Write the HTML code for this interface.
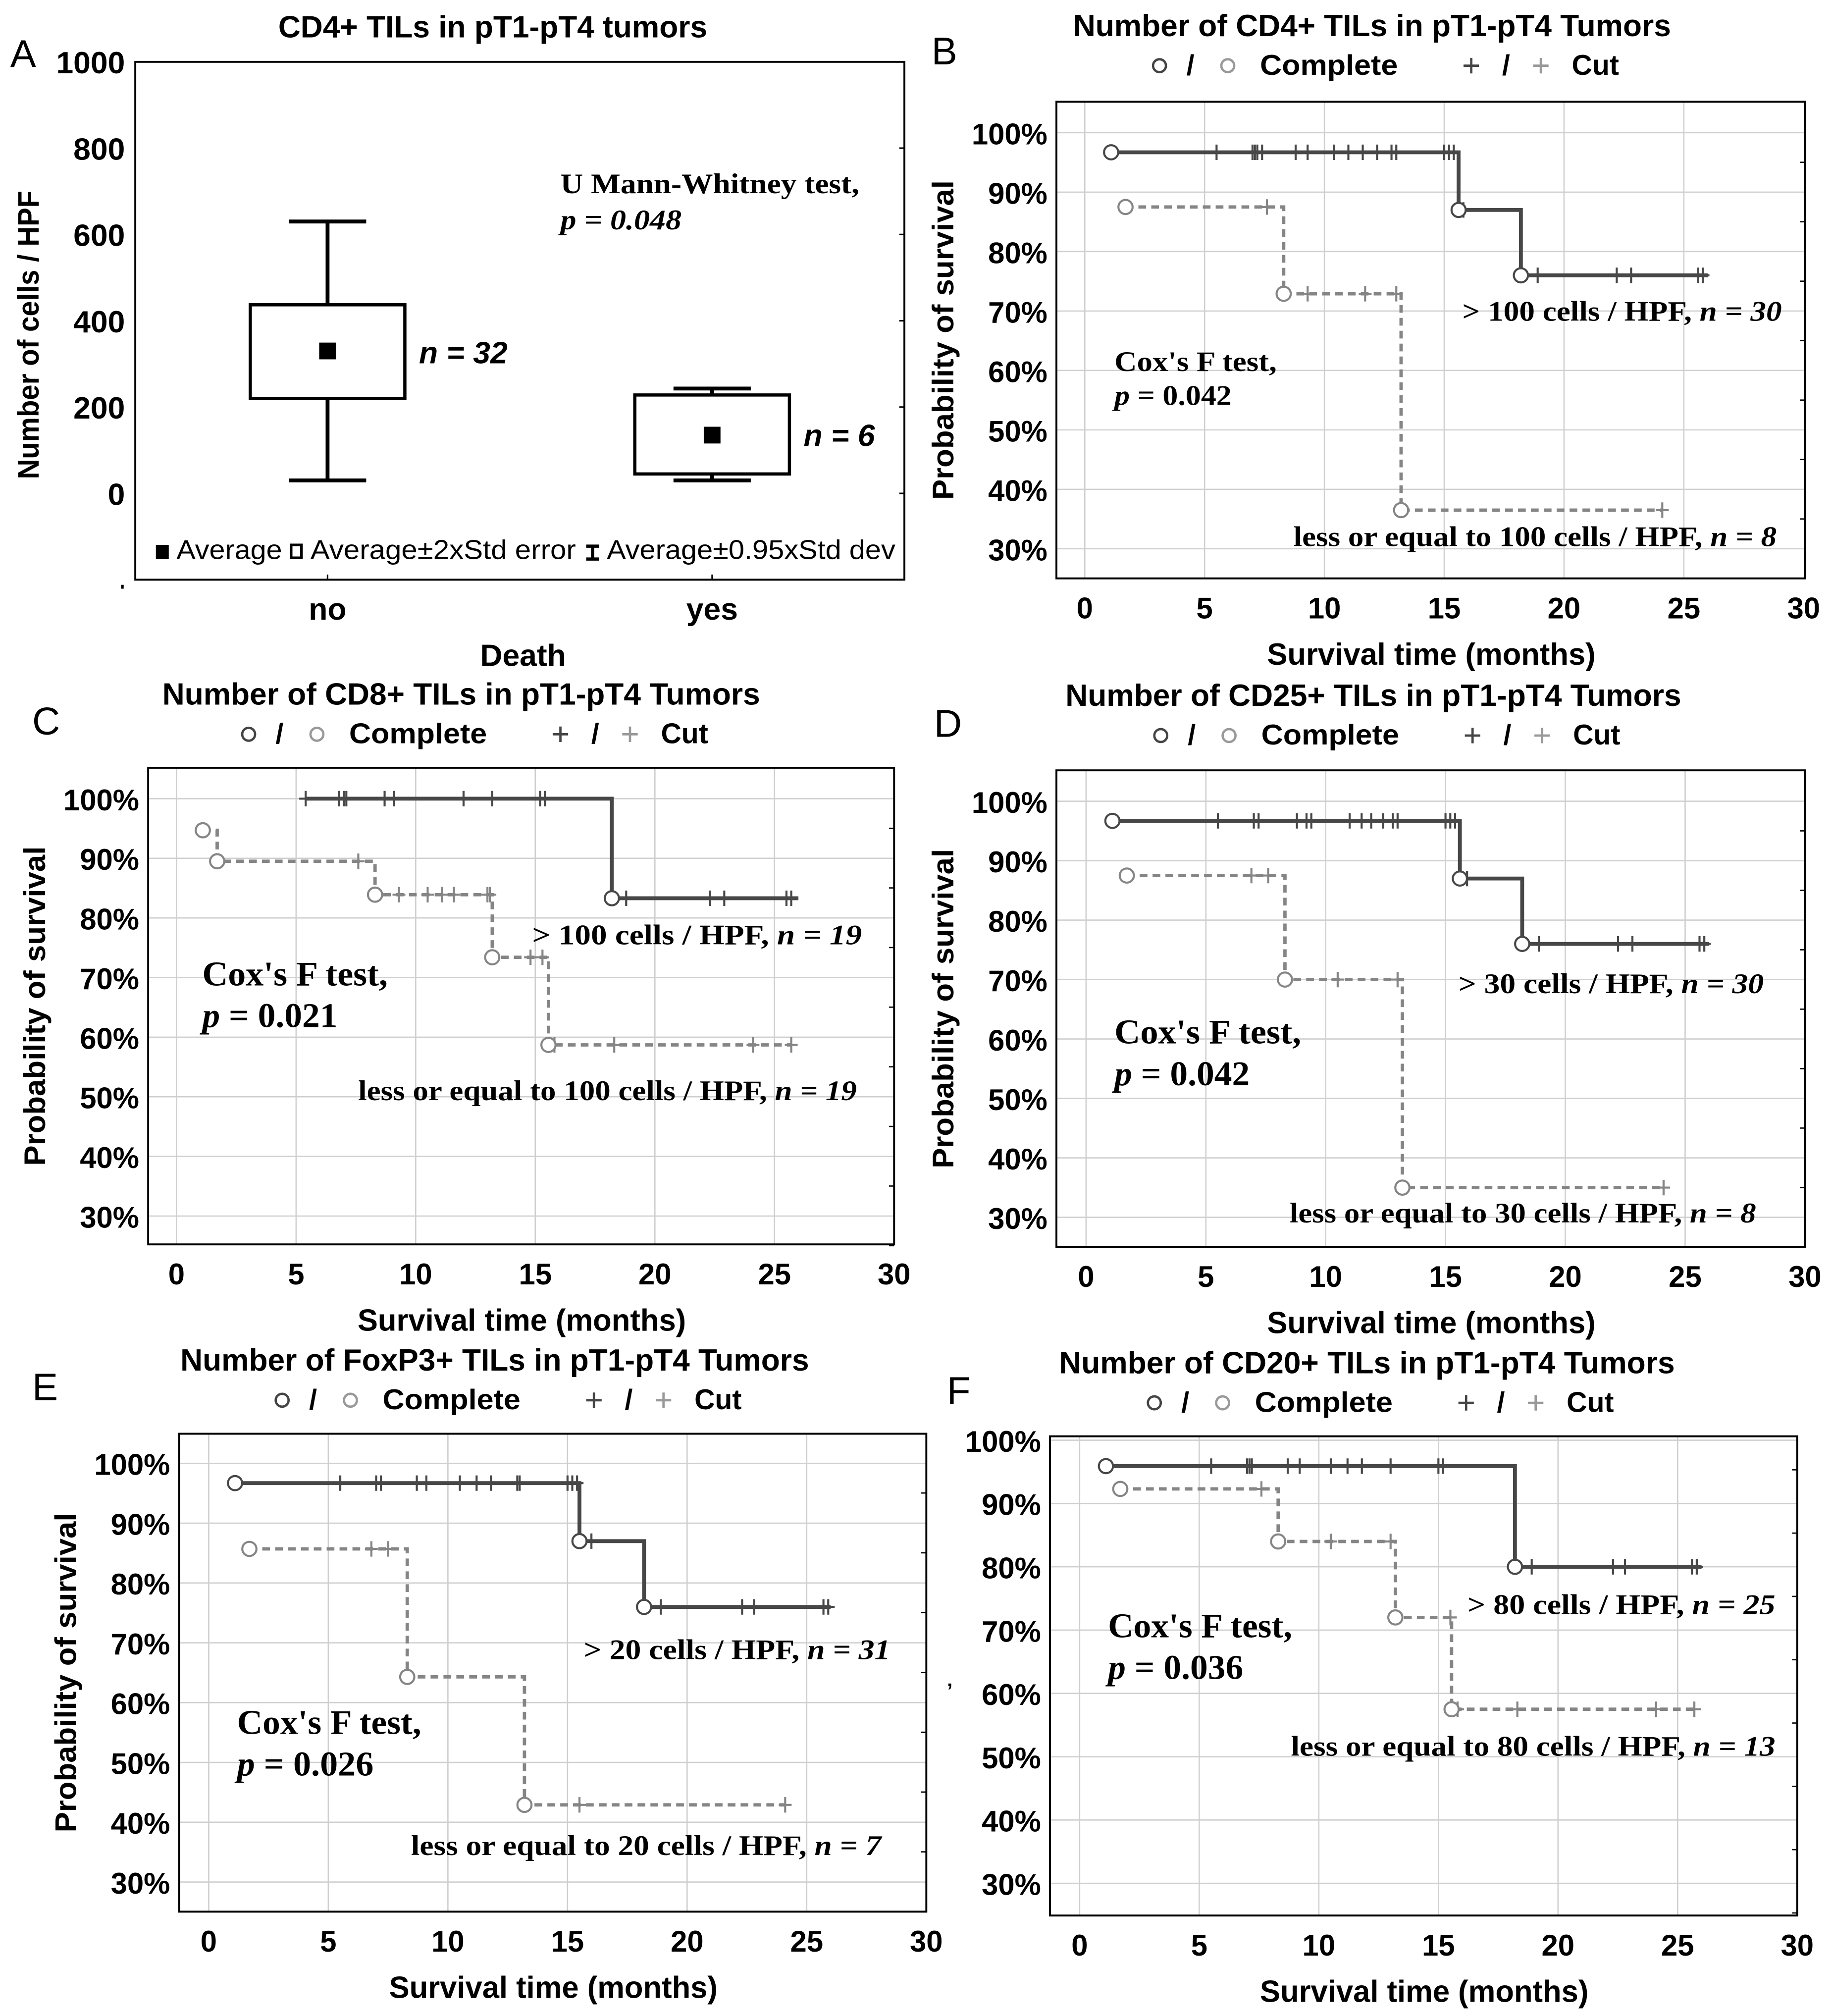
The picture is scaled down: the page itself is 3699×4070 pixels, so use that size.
<!DOCTYPE html>
<html><head><meta charset="utf-8">
<style>
html,body{margin:0;padding:0;background:#fff;}
svg{display:block;}
.sans{font-family:"Liberation Sans Narrow","Liberation Sans",sans-serif;font-weight:bold;}
.leg{font-family:"Liberation Sans",sans-serif;font-weight:bold;}
.serif{font-family:"Liberation Serif",serif;font-weight:bold;}
</style></head>
<body>
<svg id="fig" xmlns="http://www.w3.org/2000/svg" width="3699" height="4070" viewBox="0 0 1422 1565" preserveAspectRatio="none">
<rect x="0" y="0" width="1422" height="1565" fill="#fff"/>
</svg>
<script>
// ---------- Panel A data ----------
const aGroups = ['no','yes'];
const aMeans = [330, 135];
const aBoxLo = [220, 45];
const aBoxHi = [437, 228];
const aWhLo = [30, 30];
const aWhHi = [630, 243];
const aYTicks = [0, 200, 400, 600, 800, 1000];
const aNLabels = ['n = 32', 'n = 6'];

// ---------- KM data ----------
const kmXTicks = [0, 5, 10, 15, 20, 25, 30];
const kmYTicks = [30, 40, 50, 60, 70, 80, 90, 100];

const bHiT = [1.1, 15.6, 18.2];
const bHiS = [96.7, 87, 76];
const bHiCens = [5.5, 7, 7.1, 7.2, 7.4, 8.8, 9.3, 10.4, 11, 11.6, 12.2, 12.8, 13, 15, 15.2, 15.4, 15.8, 18.9, 22.2, 22.8, 25.6, 25.8];
const bHiEnd = [26];
const bLoT = [1.7, 8.3, 13.2];
const bLoS = [87.5, 72.9, 36.5];
const bLoCens = [7.6, 9.3, 11.7, 13.0, 24.1];
const bLoEnd = [24.1];

const cHiT = [5.4, 18.2];
const cHiS = [100, 83.3];
const cHiCens = [5.4, 6.8, 7, 7.1, 8.7, 9.1, 12, 13.2, 15.2, 15.4, 18.8, 22.3, 22.9, 25.5, 25.7];
const cHiEnd = [26];
const cLoT = [1.1, 1.7, 8.3, 13.2, 15.55];
const cLoS = [94.7, 89.5, 83.9, 73.4, 58.7];
const cLoCens = [7.6, 9.3, 10.5, 11.1, 11.6, 13.0, 13.1, 14.8, 15.3, 15.8, 18.3, 24.1, 25.7];
const cLoEnd = [25.7];

const dHiT = [1.1, 15.6, 18.2];
const dHiS = [96.7, 87, 76];
const dHiCens = [5.5, 7, 7.2, 8.8, 9.2, 9.4, 11, 11.5, 11.9, 12.4, 12.8, 13, 15, 15.2, 15.4, 15.9, 18.9, 22.2, 22.8, 25.6, 25.8];
const dHiEnd = [26];
const dLoT = [1.7, 8.3, 13.2];
const dLoS = [87.5, 70, 35];
const dLoCens = [6.9, 7.6, 10.5, 13.0, 24.1];
const dLoEnd = [24.1];

const eHiT = [1.1, 15.5, 18.2];
const eHiS = [96.7, 87, 76];
const eHiCens = [5.5, 7, 7.2, 8.7, 9.1, 10.5, 11.2, 11.8, 12.9, 13, 15, 15.2, 15.4, 16, 18.9, 22.3, 22.8, 25.7, 25.9];
const eHiEnd = [26];
const eLoT = [1.7, 8.3, 13.2];
const eLoS = [85.7, 64.3, 42.9];
const eLoCens = [6.8, 7.5, 15.5, 24.1];
const eLoEnd = [24.1];

const fHiT = [1.1, 18.2];
const fHiS = [95.9, 80];
const fHiCens = [5.5, 7, 7.1, 7.2, 8.7, 9.2, 10.5, 11.2, 11.8, 13, 15, 15.2, 18.9, 22.3, 22.8, 25.6, 25.8];
const fHiEnd = [26];
const fLoT = [1.7, 8.3, 13.2, 15.55];
const fLoS = [92.3, 84, 72, 57.5];
const fLoCens = [7.6, 10.5, 13, 15.5, 15.8, 18.3, 24.1, 25.7];
const fLoEnd = [25.7];

const NS = 'http://www.w3.org/2000/svg';
const svg = document.getElementById('fig');
function mk(tag, attrs, parent) {
  const e = document.createElementNS(NS, tag);
  for (const k in attrs) e.setAttribute(k, attrs[k]);
  (parent || svg).appendChild(e);
  return e;
}
function txt(str, attrs, parent) {
  const t = mk('text', attrs, parent);
  t.textContent = str;
  if (attrs.textLength) t.setAttribute('lengthAdjust', 'spacingAndGlyphs');
  return t;
}

// ================= Panel A =================
(function () {
  const g = mk('g', {});
  
  
  const L = 105, R = 702, T = 48, B = 450;
  const y = v => 383 - (v) * (335 / 1000);
  const bw = (R - L) / aGroups.length;
  const xc = i => L + bw * (i + 0.5);

  let t = txt('A', {x: 8, y: 52, 'font-size': 30, class: 'leg', style: 'font-weight:normal'}, g);
  
  
  t = txt('CD4+ TILs in pT1-pT4 tumors', {x: 216, y: 29, 'font-size': 24, textLength: 333, class: 'sans'}, g);
  
  

  const fr = mk('rect', {x: L, y: T, width: R - L, height: B - T, fill: 'none', stroke: '#000', 'stroke-width': 1.5}, g);
  
  

  aYTicks.forEach(v => {
    const lb = txt(String(v), {x: 97, y: y(v) + 9, 'font-size': 24, 'text-anchor': 'end', class: 'sans'}, g);
    
    
    const tk = mk('line', {x1: R - 4, x2: R, y1: y(v), y2: y(v), stroke: '#000', 'stroke-width': 1.2}, g);
    
    
  });
  const dot = mk('rect', {x: 94, y: 454, width: 2, height: 3, fill: '#000'}, g);
  
  

  t = txt('Number of cells / HPF', {x: -112, y: 0, 'font-size': 23, textLength: 224, class: 'leg', transform: 'translate(30,260) rotate(-90)'}, g);
  
  

  aGroups.forEach((name, i) => {
    const cx = xc(i);
    const lb = txt(name, {x: cx, y: 481, 'font-size': 24, 'text-anchor': 'middle', class: 'sans'}, g);
    
    
    const tk = mk('line', {x1: cx, x2: cx, y1: B, y2: B - 4, stroke: '#000', 'stroke-width': 1.2}, g);
    
    
    const w1 = mk('line', {x1: cx, x2: cx, y1: y(aWhLo[i]), y2: y(aWhHi[i]), stroke: '#000', 'stroke-width': 3}, g);
    
    
    const c1 = mk('line', {x1: cx - 30, x2: cx + 30, y1: y(aWhHi[i]), y2: y(aWhHi[i]), stroke: '#000', 'stroke-width': 3}, g);
    
    
    const c2 = mk('line', {x1: cx - 30, x2: cx + 30, y1: y(aWhLo[i]), y2: y(aWhLo[i]), stroke: '#000', 'stroke-width': 3}, g);
    
    
    const bx = mk('rect', {x: cx - 60, y: y(aBoxHi[i]), width: 120, height: y(aBoxLo[i]) - y(aBoxHi[i]), fill: '#fff', stroke: '#000', 'stroke-width': 2.5}, g);
    
    
    const m = mk('rect', {x: cx - 6.5, y: y(aMeans[i]) - 6.5, width: 13, height: 13, fill: '#000'}, g);
    
    
    const n = txt(aNLabels[i], {x: cx + 71, y: y((aBoxLo[i] + aBoxHi[i]) / 2) + 9, 'font-size': 24, class: 'sans', 'font-style': 'italic'}, g);
    
    
  });

  t = txt('U Mann-Whitney test,', {x: 435, y: 150, 'font-size': 22, textLength: 232, class: 'serif'}, g);
  
  
  t = txt('p = 0.048', {x: 435, y: 178, 'font-size': 22, textLength: 94, class: 'serif', 'font-style': 'italic'}, g);
  
  

  // legend
  let s = mk('rect', {x: 121, y: 423, width: 10, height: 11, fill: '#000'}, g);
  
  
  t = txt('Average', {x: 137, y: 434, 'font-size': 21, textLength: 82, class: 'leg', style: 'font-weight:normal'}, g);
  
  
  s = mk('rect', {x: 226, y: 423, width: 8, height: 10, fill: '#fff', stroke: '#000', 'stroke-width': 2}, g);
  
  
  t = txt('Average±2xStd error', {x: 241, y: 434, 'font-size': 21, textLength: 206, class: 'leg', style: 'font-weight:normal'}, g);
  
  
  s = mk('path', {d: 'M455 424 H465 M460 424 V434 M455 434 H465', stroke: '#000', 'stroke-width': 2.5, fill: 'none'}, g);
  
  
  t = txt('Average±0.95xStd dev', {x: 471, y: 434, 'font-size': 21, textLength: 224, class: 'leg', style: 'font-weight:normal'}, g);
  
  

  t = txt('Death', {x: 406, y: 517, 'font-size': 24, 'text-anchor': 'middle', class: 'sans'}, g);
  
  
})();

// ================= KM panels =================
function drawKM(cfg) {
  const g = mk('g', {});
  
  
  const x = v => cfg.x0 + (v / 30) * (cfg.x30 - cfg.x0);
  const y = v => cfg.y100 + (100 - v) / 70 * (cfg.y30 - cfg.y100);

  kmXTicks.forEach(v => {
    if (v === 30) return;
    const gl = mk('line', {x1: x(v), x2: x(v), y1: cfg.top, y2: cfg.bottom, stroke: '#cfcfcf', 'stroke-width': 1}, g);
    
    
  });
  kmYTicks.forEach(v => {
    const gl = mk('line', {x1: cfg.left, x2: cfg.right, y1: y(v), y2: y(v), stroke: '#cfcfcf', 'stroke-width': 1}, g);
    
    
    const tk = mk('line', {x1: cfg.right - 4, x2: cfg.right, y1: y(v) + 23, y2: y(v) + 23, stroke: '#000', 'stroke-width': 1}, g);
    
    
    const lb = txt(v + '%', {x: cfg.left - 7, y: y(v) + 9, 'font-size': 23, 'text-anchor': 'end', class: 'sans'}, g);
    
    
  });
  kmXTicks.forEach(v => {
    const lb = txt(String(v), {x: x(v), y: cfg.bottom + 31, 'font-size': 23, 'text-anchor': 'middle', class: 'sans'}, g);
    
    
  });
  const fr = mk('rect', {x: cfg.left, y: cfg.top, width: cfg.right - cfg.left, height: cfg.bottom - cfg.top, fill: 'none', stroke: '#000', 'stroke-width': 1.5}, g);
  
  

  let t = txt(cfg.letter, {x: cfg.lx, y: cfg.ly, 'font-size': 30, class: 'leg', style: 'font-weight:normal'}, g);
  
  
  t = txt(cfg.title, {x: cfg.tx - cfg.tw / 2, y: cfg.ty + 1, 'font-size': 24, textLength: cfg.tw, class: 'sans'}, g);
  
  
  const ly = cfg.ty + 31, tx = cfg.tx;
  let c = mk('circle', {cx: tx - 165, cy: ly - 7, r: 5, fill: 'none', stroke: '#444', 'stroke-width': 1.8}, g);
  
  
  t = txt('/', {x: tx - 141, y: ly, 'font-size': 22, 'text-anchor': 'middle', class: 'leg'}, g);
  
  
  c = mk('circle', {cx: tx - 112, cy: ly - 7, r: 5, fill: 'none', stroke: '#999', 'stroke-width': 1.8}, g);
  
  
  t = txt('Complete', {x: tx - 87, y: ly, 'font-size': 22, textLength: 107, class: 'leg'}, g);
  
  
  c = mk('path', {d: `M${tx + 71} ${ly - 7} h12 M${tx + 77} ${ly - 13} v12`, stroke: '#444', 'stroke-width': 1.8}, g);
  
  
  t = txt('/', {x: tx + 104, y: ly, 'font-size': 22, 'text-anchor': 'middle', class: 'leg'}, g);
  
  
  c = mk('path', {d: `M${tx + 125} ${ly - 7} h12 M${tx + 131} ${ly - 13} v12`, stroke: '#999', 'stroke-width': 1.8}, g);
  
  
  t = txt('Cut', {x: tx + 155, y: ly, 'font-size': 22, class: 'leg'}, g);
  
  

  if (cfg.ytitle) {
    t = txt('Probability of survival', {x: -124, y: 0, 'font-size': 23, textLength: 248, class: 'leg', transform: `translate(${cfg.left - 80},${(cfg.top + cfg.bottom) / 2}) rotate(-90)`}, g);
    
    
  } else {
    t = txt('\u2019', {x: cfg.left - 80, y: 1318, 'font-size': 16, class: 'leg'}, g);
    
    
  }
  const cxm = (cfg.left + cfg.right) / 2;
  t = txt('Survival time (months)', {x: cxm - 127, y: cfg.bottom + 67, 'font-size': 24, textLength: 255, class: 'sans'}, g);
  
  

  function series(T, S, cens, end, style, name, startCircle) {
    let d = `M${x(T[0])} ${y(S[0])}`;
    for (let i = 1; i < T.length; i++) d += ` H${x(T[i])} V${y(S[i])}`;
    d += ` H${x(end[0])}`;
    const p = mk('path', {d: d, fill: 'none', stroke: style.color, 'stroke-width': style.w, 'stroke-dasharray': style.dash}, g);
    
    
    cens.forEach(ct => {
      let lv = S[0];
      for (let i = 0; i < T.length; i++) if (T[i] <= ct) lv = S[i];
      const m = mk('path', {d: `M${x(ct)} ${y(lv) - 6} v12 M${x(ct) - 5} ${y(lv)} h10`, stroke: style.color, 'stroke-width': 1.6}, g);
      
      
    });
    T.forEach((et, i) => {
      if (i === 0 && !startCircle) return;
      const ci = mk('circle', {cx: x(et), cy: y(S[i]), r: 5.5, fill: '#fff', stroke: style.color, 'stroke-width': 1.6}, g);
      
      
    });
  }
  series(cfg.loT, cfg.loS, cfg.loCens, cfg.loEnd, {color: '#858585', w: 2.6, dash: '6 4'}, 'low-group', true);
  series(cfg.hiT, cfg.hiS, cfg.hiCens, cfg.hiEnd, {color: '#474747', w: 3, dash: 'none'}, 'high-group', cfg.hiStartCircle);

  const hi = txt(cfg.hiLabel, {x: cfg.hiX, y: cfg.hiY, 'font-size': 22, textLength: cfg.hiW, class: 'serif'}, g);
  const hin = mk('tspan', {'font-style': 'italic'}, hi);
  hin.textContent = cfg.hiN;
  
  
  const lo = txt(cfg.loLabel, {x: cfg.loX, y: cfg.loY, 'font-size': 22, textLength: cfg.loW, class: 'serif'}, g);
  const lon = mk('tspan', {'font-style': 'italic'}, lo);
  lon.textContent = cfg.loN;
  
  
  t = txt("Cox's F test,", {x: cfg.coxX, y: cfg.coxY, 'font-size': cfg.coxSize, textLength: cfg.coxW, class: 'serif'}, g);
  
  
  const pv = txt('', {x: cfg.coxX, y: cfg.coxY + cfg.coxSize * 1.2, 'font-size': cfg.coxSize, textLength: cfg.pW, lengthAdjust: 'spacingAndGlyphs', class: 'serif'}, g);
  const pi = mk('tspan', {'font-style': 'italic'}, pv);
  pi.textContent = 'p';
  const pr = mk('tspan', {}, pv);
  pr.textContent = ' = ' + cfg.p;
  
  
}

drawKM({id: 'b', letter: 'B', lx: 723, ly: 50, title: 'Number of CD4+ TILs in pT1-pT4 Tumors', tx: 1065, ty: 27, tw: 464,
  left: 820, right: 1401, top: 79, bottom: 449, x0: 842, x30: 1400, y100: 103, y30: 426, ytitle: true,
  hiT: bHiT, hiS: bHiS, hiCens: bHiCens, hiEnd: bHiEnd, hiStartCircle: true,
  loT: bLoT, loS: bLoS, loCens: bLoCens, loEnd: bLoEnd,
  hiLabel: '> 100 cells / HPF, ', hiN: 'n = 30', hiX: 1135, hiY: 249, hiW: 248,
  loLabel: 'less or equal to 100 cells / HPF, ', loN: 'n = 8', loX: 1004, loY: 424, loW: 375,
  coxX: 865, coxY: 288, coxSize: 22, coxW: 126, pW: 91, p: '0.042'});

drawKM({id: 'c', letter: 'C', lx: 25, ly: 570, title: 'Number of CD8+ TILs in pT1-pT4 Tumors', tx: 358, ty: 546, tw: 464,
  left: 115, right: 694, top: 596, bottom: 966, x0: 137, x30: 694, y100: 620, y30: 944, ytitle: true,
  hiT: cHiT, hiS: cHiS, hiCens: cHiCens, hiEnd: cHiEnd, hiStartCircle: false,
  loT: cLoT, loS: cLoS, loCens: cLoCens, loEnd: cLoEnd,
  hiLabel: '> 100 cells / HPF, ', hiN: 'n = 19', hiX: 413, hiY: 733, hiW: 256,
  loLabel: 'less or equal to 100 cells / HPF, ', loN: 'n = 19', loX: 278, loY: 854, loW: 387,
  coxX: 157, coxY: 765, coxSize: 27, coxW: 144, pW: 105, p: '0.021'});

drawKM({id: 'd', letter: 'D', lx: 725, ly: 572, title: 'Number of CD25+ TILs in pT1-pT4 Tumors', tx: 1066, ty: 547, tw: 478,
  left: 820, right: 1401, top: 598, bottom: 968, x0: 843, x30: 1401, y100: 622, y30: 945, ytitle: true,
  hiT: dHiT, hiS: dHiS, hiCens: dHiCens, hiEnd: dHiEnd, hiStartCircle: true,
  loT: dLoT, loS: dLoS, loCens: dLoCens, loEnd: dLoEnd,
  hiLabel: '> 30 cells / HPF, ', hiN: 'n = 30', hiX: 1132, hiY: 771, hiW: 237,
  loLabel: 'less or equal to 30 cells / HPF, ', loN: 'n = 8', loX: 1001, loY: 949, loW: 362,
  coxX: 865, coxY: 810, coxSize: 27, coxW: 145, pW: 105, p: '0.042'});

drawKM({id: 'e', letter: 'E', lx: 25, ly: 1087, title: 'Number of FoxP3+ TILs in pT1-pT4 Tumors', tx: 384, ty: 1063, tw: 488,
  left: 139, right: 719, top: 1113, bottom: 1484, x0: 162, x30: 719, y100: 1136, y30: 1461, ytitle: true,
  hiT: eHiT, hiS: eHiS, hiCens: eHiCens, hiEnd: eHiEnd, hiStartCircle: true,
  loT: eLoT, loS: eLoS, loCens: eLoCens, loEnd: eLoEnd,
  hiLabel: '> 20 cells / HPF, ', hiN: 'n = 31', hiX: 453, hiY: 1288, hiW: 238,
  loLabel: 'less or equal to 20 cells / HPF, ', loN: 'n = 7', loX: 319, loY: 1440, loW: 365,
  coxX: 184, coxY: 1346, coxSize: 27, coxW: 143, pW: 106, p: '0.026'});

drawKM({id: 'f', letter: 'F', lx: 735, ly: 1090, title: 'Number of CD20+ TILs in pT1-pT4 Tumors', tx: 1061, ty: 1065, tw: 478,
  left: 815, right: 1395, top: 1115, bottom: 1487, x0: 838, x30: 1395, y100: 1118, y30: 1462, ytitle: false,
  hiT: fHiT, hiS: fHiS, hiCens: fHiCens, hiEnd: fHiEnd, hiStartCircle: true,
  loT: fLoT, loS: fLoS, loCens: fLoCens, loEnd: fLoEnd,
  hiLabel: '> 80 cells / HPF, ', hiN: 'n = 25', hiX: 1139, hiY: 1253, hiW: 239,
  loLabel: 'less or equal to 80 cells / HPF, ', loN: 'n = 13', loX: 1002, loY: 1363, loW: 376,
  coxX: 860, coxY: 1271, coxSize: 27, coxW: 143, pW: 105, p: '0.036'});
</script>
</body></html>
